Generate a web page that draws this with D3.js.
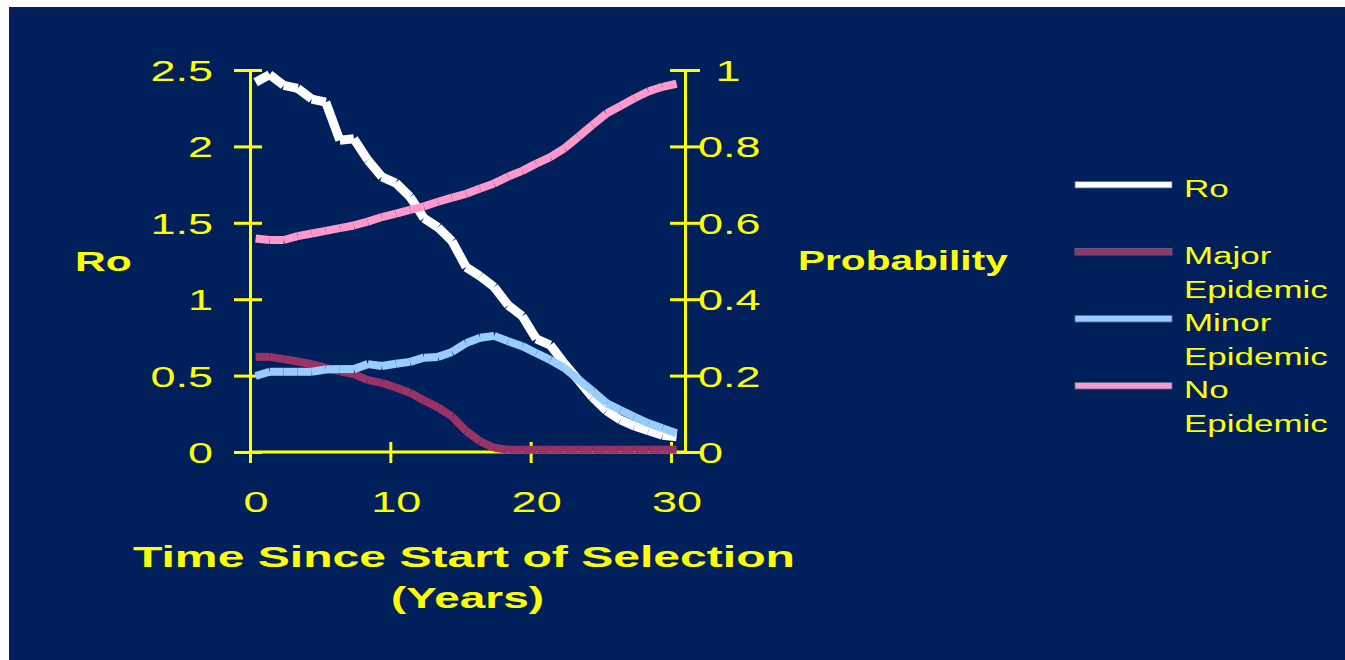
<!DOCTYPE html>
<html>
<head>
<meta charset="utf-8">
<script src="https://cdn.jsdelivr.net/npm/d3@7"></script>
<style>
  html, body { margin: 0; padding: 0; background: #ffffff; }
  svg { display: block; }
  text { font-family: "Liberation Sans", Arial, Helvetica, sans-serif; fill: #FFFF00; }
</style>
</head>
<body>
<svg id="chart" width="1345" height="660"></svg>
<script>
// Time since start of selection (years) for each model run
const years = [0.4, 1.4, 2.4, 3.4, 4.4, 5.4, 6.4, 7.4, 8.4, 9.4, 10.4, 11.4, 12.4, 13.4, 14.4, 15.4,
               16.4, 17.4, 18.4, 19.4, 20.4, 21.4, 22.4, 23.4, 24.4, 25.4, 26.4, 27.4, 28.4, 29.4, 30.4];

// Basic reproduction number (left axis)
const ro = [2.42, 2.47, 2.40, 2.38, 2.31, 2.29, 2.04, 2.05, 1.91, 1.80, 1.76, 1.67, 1.53, 1.47, 1.38, 1.21,
            1.15, 1.08, 0.96, 0.89, 0.74, 0.70, 0.58, 0.47, 0.36, 0.27, 0.21, 0.17, 0.14, 0.11, 0.10];

// Outcome probabilities (right axis)
const majorEpidemic = [0.249, 0.249, 0.243, 0.237, 0.230, 0.220, 0.211, 0.204, 0.188, 0.181, 0.169, 0.155,
                       0.135, 0.117, 0.093, 0.055, 0.028, 0.011, 0.006, 0.006, 0.006, 0.006, 0.006, 0.006,
                       0.006, 0.006, 0.006, 0.006, 0.006, 0.006, 0.006];
const minorEpidemic = [0.199, 0.210, 0.210, 0.210, 0.210, 0.216, 0.217, 0.217, 0.230, 0.225, 0.231, 0.236,
                       0.247, 0.249, 0.262, 0.285, 0.299, 0.304, 0.290, 0.277, 0.259, 0.241, 0.220, 0.190,
                       0.160, 0.128, 0.110, 0.092, 0.075, 0.062, 0.049];
const noEpidemic = [0.559, 0.555, 0.555, 0.565, 0.572, 0.579, 0.586, 0.593, 0.603, 0.615, 0.624, 0.634,
                    0.643, 0.655, 0.666, 0.676, 0.690, 0.703, 0.721, 0.736, 0.755, 0.772, 0.795, 0.825,
                    0.856, 0.886, 0.906, 0.926, 0.944, 0.956, 0.964];

// Axis ticks and labels
const yearTicks = [0, 10, 20, 30];
const roTicks = [0, 0.5, 1, 1.5, 2, 2.5];
const probTicks = [0, 0.2, 0.4, 0.6, 0.8, 1];
const seriesNames = ["Ro", "Major Epidemic", "Minor Epidemic", "No Epidemic"];
const seriesColors = ["#FFFFFF", "#993366", "#99CCFF", "#FF99CC"];
const xTitle = ["Time Since Start of Selection", "(Years)"];
const leftTitle = "Ro";
const rightTitle = "Probability";

const svg = d3.select("#chart");
const YELLOW = "#FFFF00";
const STRETCH = 1.5;   // wide slide lettering

// Slide background
svg.append("rect").attr("x", 9).attr("y", 7).attr("width", 1345 - 9).attr("height", 660 - 7)
   .attr("fill", "#00205B");

// Scales
const x = d3.scaleLinear().domain([0, 31]).range([250, 685]);
const yL = d3.scaleLinear().domain([0, 2.5]).range([452, 70]);
const yR = d3.scaleLinear().domain([0, 1]).range([452, 70]);

// Stretched text helper
function wideText(parent, str, tx, ty, size, anchor, weight, sx) {
  return parent.append("text")
    .attr("transform", `translate(${tx},${ty}) scale(${sx || STRETCH},1)`)
    .attr("text-anchor", anchor)
    .attr("font-size", size)
    .attr("font-weight", weight || "normal")
    .text(str);
}

// Axes (cross ticks, yellow)
const axes = svg.append("g");
function styleAxis(g) {
  g.select(".domain").attr("stroke", YELLOW).attr("stroke-width", 3);
  g.selectAll(".tick line").attr("stroke", YELLOW).attr("stroke-width", 3);
  g.selectAll(".tick text").remove();
}
const gLeft = axes.append("g").attr("transform", "translate(250,0)")
  .call(d3.axisLeft(yL).tickValues(roTicks).tickSizeOuter(0)).call(styleAxis);
gLeft.selectAll(".tick line").attr("x1", -16).attr("x2", 12);
const gRight = axes.append("g").attr("transform", "translate(685,0)")
  .call(d3.axisRight(yR).tickValues(probTicks).tickSizeOuter(0)).call(styleAxis);
gRight.selectAll(".tick line").attr("x1", -15).attr("x2", 15);
const gBottom = axes.append("g").attr("transform", "translate(0,452)")
  .call(d3.axisBottom(x).tickValues(yearTicks).tickSizeOuter(0)).call(styleAxis);
gBottom.selectAll(".tick line").attr("y1", -10).attr("y2", 11);
gBottom.select(".domain").attr("d", `M${x(0)},0H${x.range()[1] + 1.5}`);

// Tick labels (the whole-number top label on the right sits over the decimal column)
roTicks.forEach(v => wideText(axes, String(v), 213, yL(v) + 11, 30, "end"));
probTicks.forEach(v => {
  const s = String(v);
  if (v === 1) wideText(axes, s, 728, yR(v) + 11, 30, "middle");
  else wideText(axes, s, 698, yR(v) + 11, 30, "start");
});
yearTicks.forEach(v => wideText(axes, String(v), x(v) + 6, 512, 30, "middle"));

// Axis titles
wideText(svg, leftTitle, 75, 271, 28, "start", "bold", 1.52);
wideText(svg, rightTitle, 798, 270, 28, "start", "bold", 1.45);
svg.append("text").attr("x", 133).attr("y", 567).attr("font-size", 30).attr("font-weight", "bold")
   .attr("textLength", 662).attr("lengthAdjust", "spacingAndGlyphs").text(xTitle[0]);
svg.append("text").attr("x", 391).attr("y", 608).attr("font-size", 30).attr("font-weight", "bold")
   .attr("textLength", 153).attr("lengthAdjust", "spacingAndGlyphs").text(xTitle[1]);

// Series: each drawn as butt-capped segments between consecutive points
const series = [
  { name: seriesNames[0], values: ro, y: yL, color: seriesColors[0], width: 9 },
  { name: seriesNames[1], values: majorEpidemic, y: yR, color: seriesColors[1], width: 8 },
  { name: seriesNames[2], values: minorEpidemic, y: yR, color: seriesColors[2], width: 8 },
  { name: seriesNames[3], values: noEpidemic, y: yR, color: seriesColors[3], width: 8 }
];
const plot = svg.append("g");
series.forEach(s => {
  const pts = years.map((t, i) => [x(t), s.y(s.values[i])]);
  const segs = d3.pairs(pts);
  plot.append("g").selectAll("line").data(segs).join("line")
    .attr("x1", d => d[0][0]).attr("y1", d => d[0][1])
    .attr("x2", d => d[1][0]).attr("y2", d => d[1][1])
    .attr("stroke", s.color).attr("stroke-width", s.width).attr("stroke-linecap", "butt");
});

// Legend
const legend = svg.append("g");
series.forEach((s, i) => {
  const base = 197 + i * 67;
  legend.append("rect").attr("x", 1075).attr("y", base - 15.5).attr("width", 97).attr("height", 6.5)
    .attr("fill", s.color).attr("stroke", "#5a6a8c").attr("stroke-width", 0.8);
  s.name.split(" ").forEach((word, j) => {
    wideText(legend, word, 1184, base + j * 34, 23, "start", "normal", 1.52);
  });
});
</script>
</body>
</html>
